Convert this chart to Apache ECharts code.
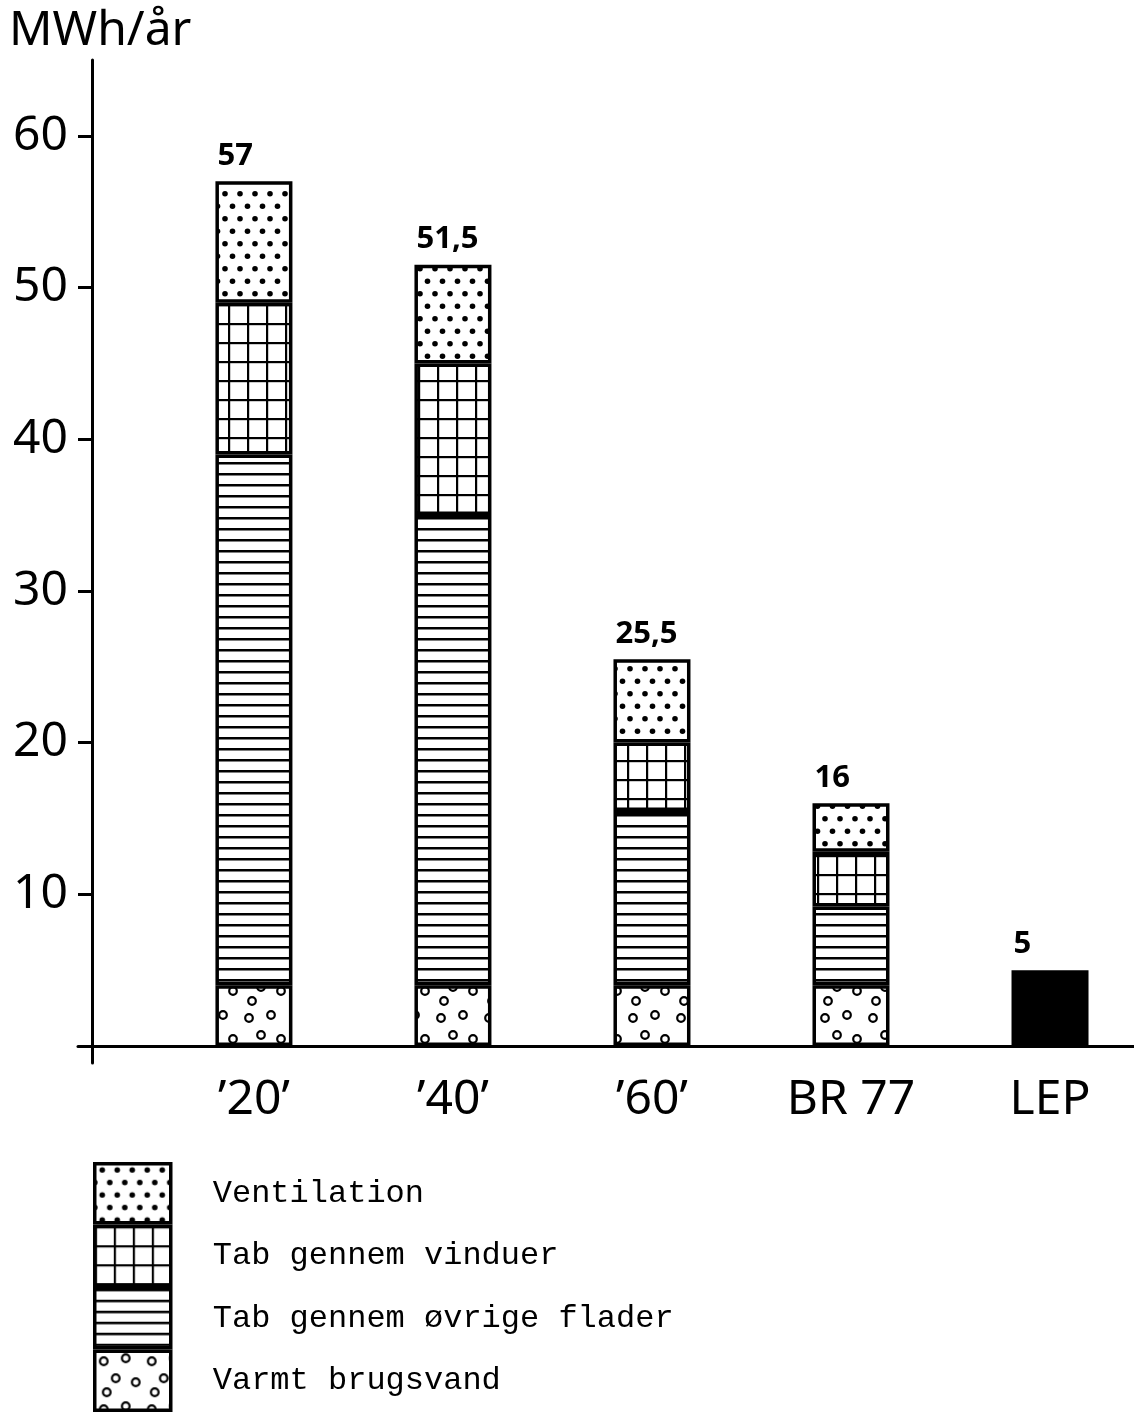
<!DOCTYPE html>
<html><head><meta charset="utf-8">
<script src="https://cdn.jsdelivr.net/npm/echarts@6/dist/echarts.min.js"></script>
<style>html,body{margin:0;padding:0;background:#fff}#c{width:1134px;height:1415px}</style>
</head><body><div id="c"></div>
<script>
// ---- data ----
const categories = ["’20’", "’40’", "’60’", "BR 77", "LEP"];
const varmtBrugsvand = [4, 4, 4, 4];
const oevrigeFlader = [35, 31, 11.5, 5.2];
const vinduer = [10, 10, 4.5, 3.6];
const ventilation = [8, 6.5, 5.5, 3.2];
const lep = [5];
const totals = [57, 51.5, 25.5, 16, 5];
const yTicks = [10, 20, 30, 40, 50, 60];
const seriesNames = ['Ventilation', 'Tab gennem vinduer', 'Tab gennem øvrige flader', 'Varmt brugsvand'];

// ---- patterns ----
function makeCanvas(w, h, draw) {
  const c = document.createElement('canvas');
  c.width = w; c.height = h;
  const g = c.getContext('2d');
  g.fillStyle = '#fff'; g.fillRect(0, 0, w, h);
  g.fillStyle = '#000'; g.strokeStyle = '#000';
  draw(g);
  return c;
}
const dotPat = makeCanvas(15, 25, g => {
  [[7.5, 6.25], [0, 18.75], [15, 18.75]].forEach(([x, y]) => {
    g.beginPath(); g.arc(x, y, 2.8, 0, Math.PI * 2); g.fill();
  });
});
const gridPat = makeCanvas(19, 19, g => {
  g.fillRect(0, 0, 2.2, 19);
  g.fillRect(0, 0, 19, 2.2);
});
const linePat = makeCanvas(10, 11, g => {
  g.fillRect(0, 0, 10, 2.5);
});
const circlePat = makeCanvas(48, 48, g => {
  g.lineWidth = 2.2;
  [[9, 10], [31, 7], [21, 27], [41, 31], [12, 41]].forEach(([x, y]) => {
    g.beginPath(); g.arc(x, y, 3.8, 0, Math.PI * 2); g.stroke();
  });
});
const fmt = v => String(v).replace('.', ',');
const labelStyle = {
  show: true, position: [2, -10], align: 'left', verticalAlign: 'bottom',
  fontSize: 31, fontWeight: 'bold', color: '#000', fontFamily: 'Noto Sans'
};

function stackSeries(name, values, pattern, withLabel) {
  return {
    name, type: 'bar', stack: 'total', barWidth: 77, barGap: '-100%',
    encode: { x: 1, y: 0 },
    data: values.map((v, i) => [v, i]),
    itemStyle: { color: { image: pattern, repeat: 'repeat' }, borderColor: '#000', borderWidth: 3.5 },
    label: withLabel ? Object.assign({}, labelStyle, { formatter: p => fmt(totals[p.dataIndex]) }) : { show: false },
    emphasis: { disabled: true }
  };
}
const lepIndex = categories.indexOf('LEP');

const chart = echarts.init(document.getElementById('c'), null, { renderer: 'canvas' });
chart.setOption({
  animation: false,
  backgroundColor: '#fff',
  title: {
    text: 'MWh/år', left: 4, top: 2,
    textStyle: { fontSize: 48, fontWeight: 'normal', color: '#000', fontFamily: 'Noto Sans' }
  },
  grid: { left: 78, right: 0, top: 60, bottom: 352, outerBoundsMode: 'none' },
  legend: {
    data: seriesNames, orient: 'vertical', left: 93, top: 1162, height: 300, padding: 0,
    itemWidth: 76, itemHeight: 59, itemGap: 0, icon: 'rect', selectedMode: false,
    textStyle: { fontFamily: 'Liberation Mono', fontSize: 32, color: '#000', padding: [0, 0, 0, 37] },
    itemStyle: { borderWidth: 3.5, borderColor: '#000' }
  },
  xAxis: {
    type: 'value', min: -0.884, max: 4.422,
    axisLine: { onZero: true, lineStyle: { color: '#000', width: 3 } },
    axisTick: { show: false }, splitLine: { show: false },
    axisLabel: {
      customValues: categories.map((c, i) => i),
      formatter: v => categories[Math.round(v)] || '',
      fontSize: 48, color: '#000', margin: 13, fontFamily: 'Noto Sans'
    }
  },
  yAxis: {
    type: 'value', min: -1.12, max: 65, offset: -14,
    axisLine: { show: true, onZero: false, lineStyle: { color: '#000', width: 3 } },
    axisTick: { show: true, length: 14, customValues: yTicks, lineStyle: { color: '#000', width: 3 } },
    axisLabel: { customValues: yTicks, fontSize: 48, color: '#000', margin: 24, fontFamily: 'Noto Sans' },
    splitLine: { show: false }
  },
  series: [
    stackSeries('Varmt brugsvand', varmtBrugsvand, circlePat, false),
    stackSeries('Tab gennem øvrige flader', oevrigeFlader, linePat, false),
    stackSeries('Tab gennem vinduer', vinduer, gridPat, false),
    stackSeries('Ventilation', ventilation, dotPat, true),
    {
      name: 'LEP', type: 'bar', barWidth: 77, barGap: '-100%',
      encode: { x: 1, y: 0 },
      data: lep.map((v, i) => [v, lepIndex + i]),
      itemStyle: { color: '#000', borderColor: '#000', borderWidth: 3.5 },
      label: Object.assign({}, labelStyle, { formatter: p => fmt(totals[lepIndex + p.dataIndex]) }),
      emphasis: { disabled: true }
    }
  ]
});
</script></body></html>
